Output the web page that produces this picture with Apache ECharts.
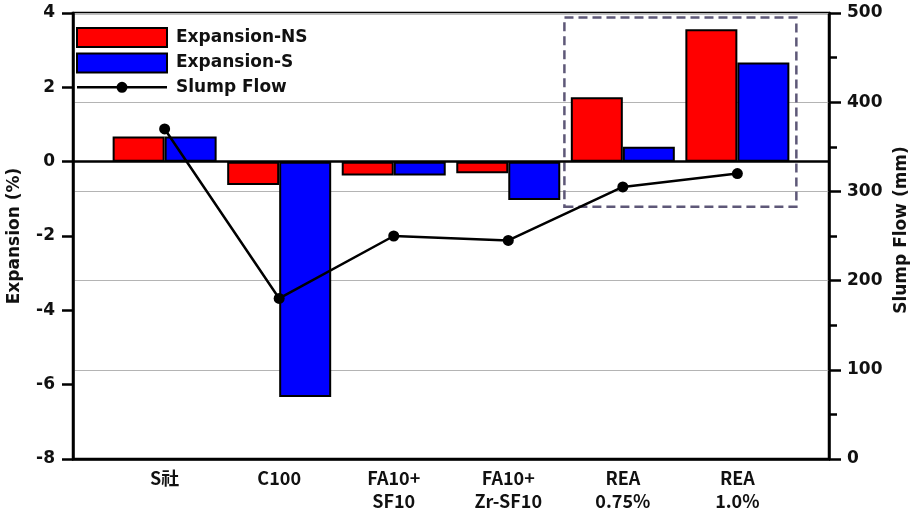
<!DOCTYPE html>
<html><head><meta charset="utf-8">
<script src="https://cdn.jsdelivr.net/npm/echarts@6/dist/echarts.min.js"></script>
<style>html,body{margin:0;padding:0;background:#fff}#c{width:913px;height:524px}</style>
</head><body><div id="c"></div>
<script>
const categories = ['S社', 'C100', 'FA10+\nSF10', 'FA10+\nZr-SF10', 'REA\n0.75%', 'REA\n1.0%'];
const expansionNS = [0.68, -0.63, -0.37, -0.31, 1.73, 3.56];
const expansionS = [0.68, -6.33, -0.37, -1.03, 0.40, 2.67];
const slumpFlow = [370, 180, 250, 245, 305, 320];
const highlightBox = [[4.49, 3.88], [6.515, -1.21]];

const xs = categories.map((c, i) => i + 1);
const pair = arr => arr.map((v, i) => [xs[i], v]);
const tickFont = { fontFamily: 'DejaVu Sans', fontWeight: 'bold', fontSize: 17, color: '#111' };
const nameFont = { fontFamily: 'DejaVu Sans', fontWeight: 'bold', fontSize: 17, color: '#111' };

const chart = echarts.init(document.getElementById('c'), null, { renderer: 'canvas' });
chart.setOption({
  animation: false,
  backgroundColor: '#fff',
  grid: { left: 73, right: 84, top: 13, bottom: 65, containLabel: false, outerBoundsMode: 'none',
    show: true, borderColor: '#000', borderWidth: 2.5, backgroundColor: 'transparent' },
  legend: {
    orient: 'vertical', left: 71, top: 22, padding: 5, itemWidth: 90, itemHeight: 19, itemGap: 4.4,
    textStyle: { fontFamily: 'DejaVu Sans', fontWeight: 'bold', fontSize: 17, color: '#111', padding: [0, 0, 0, 4] },
    data: [
      { name: 'Expansion-NS', icon: 'rect' },
      { name: 'Expansion-S', icon: 'rect' },
      { name: 'Slump Flow', icon: 'path://M0 0M90 19M0 8.25H90V10.75H0ZM50.5 9.5A5.5 5.5 0 1 1 39.5 9.5A5.5 5.5 0 1 1 50.5 9.5Z' }
    ]
  },
  xAxis: {
    type: 'value', min: 0.2, max: 6.8,
    axisLine: { show: true, onZero: false, lineStyle: { color: '#000', width: 2.5 } },
    axisTick: { show: false },
    splitLine: { show: false },
    axisLabel: {
      customValues: xs, margin: 8,
      formatter: v => categories[Math.round(v) - 1] || '',
      fontFamily: 'Noto Sans CJK KR', fontWeight: 'bold', fontSize: 18, lineHeight: 23, color: '#111'
    }
  },
  yAxis: [
    {
      type: 'value', min: -8, max: 4, interval: 2, position: 'left',
      name: 'Expansion (%)', nameLocation: 'middle', nameGap: 50, nameRotate: 90,
      nameTextStyle: nameFont,
      axisLine: { show: true, lineStyle: { color: '#000', width: 2.5 } },
      axisTick: { show: true, inside: false, length: 11, lineStyle: { color: '#000', width: 2.5 } },
      axisLabel: Object.assign({ margin: 18 }, tickFont),
      splitLine: { show: false }
    },
    {
      type: 'value', min: 0, max: 500, interval: 100, position: 'right',
      name: 'Slump Flow (mm)', nameLocation: 'middle', nameGap: 63, nameRotate: 90,
      nameTextStyle: Object.assign({ padding: [0, 0, 0, 12] }, nameFont),
      axisLine: { show: true, lineStyle: { color: '#000', width: 2.5 } },
      axisTick: { show: true, inside: false, length: 12, lineStyle: { color: '#000', width: 2.5 } },
      minorTick: { show: true, splitNumber: 2, length: 8, lineStyle: { color: '#000', width: 2.5 } },
      axisLabel: Object.assign({ margin: 18 }, tickFont),
      splitLine: { show: true, lineStyle: { color: '#b4b4b4', width: 1 } }
    }
  ],
  series: [
    {
      name: 'Expansion-NS', type: 'bar', yAxisIndex: 0, data: pair(expansionNS),
      barWidth: 52, barGap: '0%',
      itemStyle: { color: '#ff0000', borderColor: '#000', borderWidth: 2 },
      markLine: {
        silent: true, symbol: 'none', label: { show: false },
        lineStyle: { color: '#000', width: 2.5, type: 'solid' },
        data: [{ yAxis: 0 }]
      },
      markArea: {
        silent: true,
        itemStyle: { color: 'rgba(0,0,0,0)', borderColor: '#5e5878', borderWidth: 2.5, borderType: [9, 5] },
        data: [[{ coord: highlightBox[0] }, { coord: highlightBox[1] }]]
      }
    },
    {
      name: 'Expansion-S', type: 'bar', yAxisIndex: 0, data: pair(expansionS),
      barWidth: 52, barGap: '0%',
      itemStyle: { color: '#0000ff', borderColor: '#000', borderWidth: 2 }
    },
    {
      name: 'Slump Flow', type: 'line', yAxisIndex: 1, data: pair(slumpFlow), z: 10,
      symbol: 'circle', symbolSize: 11,
      lineStyle: { color: '#000', width: 2.5 },
      itemStyle: { color: '#000' }
    }
  ]
});
</script></body></html>
